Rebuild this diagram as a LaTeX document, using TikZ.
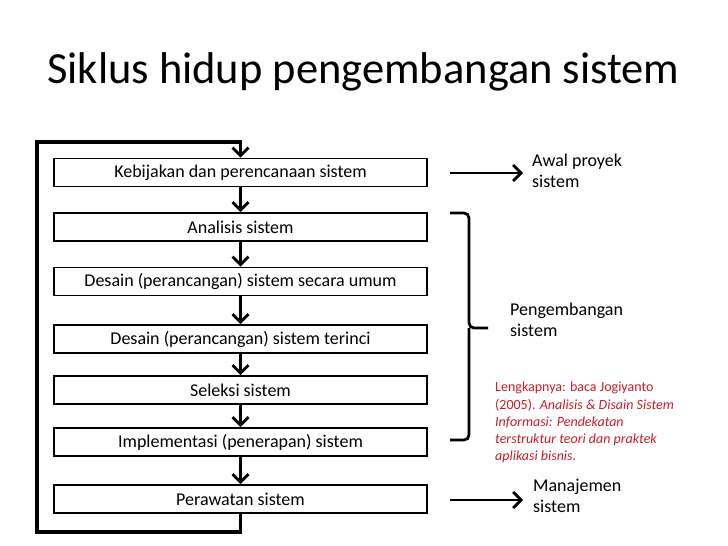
\documentclass[tikz,border=0pt]{standalone}
\usepackage{fontspec}
\setmainfont{Carlito}
\usetikzlibrary{arrows.meta}
\definecolor{refred}{RGB}{200,30,40}
\begin{document}
\begin{tikzpicture}[x=1pt,y=-1pt,
  stagebox/.style={draw,line width=1.8pt,minimum width=373pt,minimum height=28pt,inner sep=0pt,font=\fontsize{18}{21}\selectfont},
  flowarrow/.style={line width=2.8pt,-{Straight Barb[length=8pt,width=16pt]}},
  sidelabel/.style={anchor=north west,align=left,inner sep=0pt,font=\fontsize{18}{21}\selectfont},
  loopline/.style={line width=3.8pt}]
\useasboundingbox (0,0) rectangle (728,546);
\node[anchor=base west,inner sep=0pt,font=\fontsize{44.5}{50}\selectfont] (title) at (47,83) {Siklus hidup pengembangan sistem};
\node[stagebox] (s1) at (240.5,172.5) {Kebijakan dan perencanaan sistem};
\node[stagebox] (s2) at (240.5,227) {Analisis sistem};
\node[stagebox] (s3) at (240.5,281.5) {Desain (perancangan) sistem secara umum};
\node[stagebox] (s4) at (240.5,339) {Desain (perancangan) sistem terinci};
\node[stagebox] (s5) at (240.5,390) {Seleksi sistem};
\node[stagebox] (s6) at (240.5,442) {Implementasi (penerapan) sistem};
\node[stagebox] (s7) at (240.5,499) {Perawatan sistem};
\foreach \a/\b in {s1/s2,s2/s3,s3/s4,s4/s5,s5/s6,s6/s7}
  \draw[flowarrow] (\a.south) -- (\b.north);
\coordinate (lb) at (37,532);
\coordinate (lt) at (37,142);
\draw[loopline,line join=miter] (s7.south) -- (s7.south |- lb) -- (lb) -- (lt) -- (s1.north |- lt) -- ++(0,4);
\draw[flowarrow] ([yshift=-1pt]s1.north |- lt) -- (s1.north);
% right side
\coordinate (a1s) at (450,173);
\coordinate (a1e) at (523,173);
\draw[flowarrow] (a1s) -- (a1e);
\node[sidelabel] (l1) at (532,154) {Awal proyek\\sistem};
\coordinate (a2s) at (450,500);
\coordinate (a2e) at (523,500);
\draw[flowarrow] (a2s) -- (a2e);
\node[sidelabel] (l2) at (533,479) {Manajemen\\sistem};
% bracket
\coordinate (bt) at (450,213);
\coordinate (bb) at (450,440);
\coordinate (bm) at (488,328);
\draw[line width=2.8pt,rounded corners=5pt] (bt) -- (469,213) -- (469,328) -- (bm);
\draw[line width=2.8pt,rounded corners=5pt] (bb) -- (469,440) -- (469,328);
\node[sidelabel] (l3) at (510,303) {Pengembangan\\sistem};
\node[anchor=north west,align=left,inner sep=0pt,text=refred,font=\fontsize{14}{17.2}\selectfont] (ref) at (495,382)
  {Lengkapnya: baca Jogiyanto\\(2005). \textit{Analisis \& Disain Sistem}\\\textit{Informasi: Pendekatan}\\\textit{terstruktur teori dan praktek}\\\textit{aplikasi bisnis.}};
\end{tikzpicture}
\end{document}
